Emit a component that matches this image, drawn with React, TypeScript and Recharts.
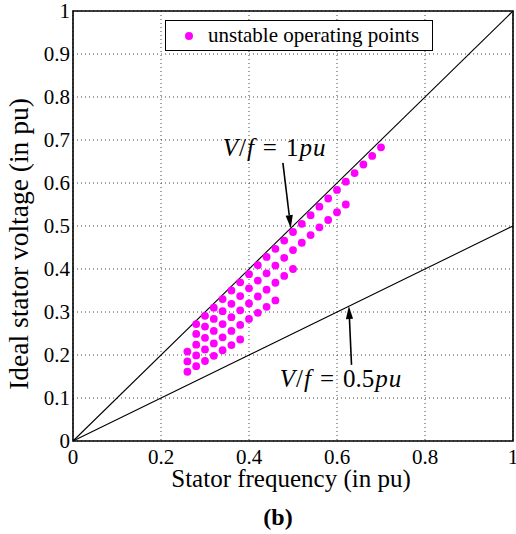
import React from 'react';
import {
  ScatterChart,
  Scatter,
  XAxis,
  YAxis,
  CartesianGrid,
  ReferenceLine,
  ReferenceDot,
  ReferenceArea,
} from 'recharts';

const xTicks = [0, 0.2, 0.4, 0.6, 0.8, 1];
const yTicks = [0, 0.1, 0.2, 0.3, 0.4, 0.5, 0.6, 0.7, 0.8, 0.9, 1];

// Row nearest V/f = 1
const freqRowA = [0.28, 0.3, 0.32, 0.34, 0.36, 0.38, 0.4, 0.42, 0.44, 0.46, 0.48, 0.5, 0.52, 0.54, 0.56, 0.58, 0.6, 0.62, 0.64, 0.66, 0.68, 0.7];
const voltRowA = [0.272, 0.291, 0.31, 0.33, 0.35, 0.369, 0.388, 0.409, 0.428, 0.447, 0.466, 0.486, 0.505, 0.525, 0.545, 0.564, 0.584, 0.603, 0.623, 0.643, 0.663, 0.683];
// second row
const freqRowB = [0.28, 0.3, 0.32, 0.34, 0.36, 0.38, 0.4, 0.42, 0.44, 0.46, 0.48, 0.5, 0.52, 0.54, 0.56, 0.58, 0.6, 0.62];
const voltRowB = [0.249, 0.266, 0.284, 0.302, 0.319, 0.337, 0.355, 0.373, 0.39, 0.408, 0.426, 0.444, 0.461, 0.479, 0.497, 0.514, 0.532, 0.55];
// third row
const freqRowC = [0.26, 0.28, 0.3, 0.32, 0.34, 0.36, 0.38, 0.4, 0.42, 0.44, 0.46, 0.48, 0.5];
const voltRowC = [0.208, 0.224, 0.24, 0.256, 0.272, 0.288, 0.304, 0.32, 0.336, 0.352, 0.368, 0.384, 0.4];
// fourth row
const freqRowD = [0.26, 0.28, 0.3, 0.32, 0.34, 0.36, 0.38, 0.4, 0.42, 0.44, 0.46];
const voltRowD = [0.185, 0.199, 0.213, 0.227, 0.241, 0.256, 0.27, 0.284, 0.298, 0.312, 0.327];
// fifth row
const freqRowE = [0.26, 0.28, 0.3, 0.32, 0.34, 0.36, 0.38];
const voltRowE = [0.161, 0.174, 0.186, 0.198, 0.211, 0.223, 0.236];

const rows: [number[], number[]][] = [
  [freqRowA, voltRowA],
  [freqRowB, voltRowB],
  [freqRowC, voltRowC],
  [freqRowD, voltRowD],
  [freqRowE, voltRowE],
];
const unstablePoints = rows.flatMap(([fs, vs]) => fs.map((f, i) => ({ f, v: vs[i] })));

const SERIF = 'Liberation Serif';
const MAGENTA = '#ff00ff';

const Arrow = (props: any) => {
  const { x1, y1, x2, y2 } = props;
  const ang = Math.atan2(y2 - y1, x2 - x1);
  const L = 13;
  const W = 3.6;
  const bx = x2 - L * Math.cos(ang);
  const by = y2 - L * Math.sin(ang);
  const px = -Math.sin(ang) * W;
  const py = Math.cos(ang) * W;
  return (
    <g>
      <line x1={x1} y1={y1} x2={bx} y2={by} stroke="#000" strokeWidth={1.6} />
      <polygon points={`${x2},${y2} ${bx + px},${by + py} ${bx - px},${by - py}`} fill="#000" />
    </g>
  );
};

const mathLabel = (ratio: string) => (p: any) => (
  <text
    x={p.cx}
    y={p.cy}
    textAnchor="middle"
    dominantBaseline="central"
    fontFamily={SERIF}
    fontSize={25}
    fill="#000"
  >
    <tspan fontStyle="italic">V</tspan>
    <tspan dx={1}>/</tspan>
    <tspan dx={1} fontStyle="italic">f</tspan>
    <tspan dx={9}>=</tspan>
    <tspan dx={9}>{ratio}</tspan>
    <tspan dx={1} fontStyle="italic">p</tspan>
    <tspan dx={1} fontStyle="italic">u</tspan>
  </text>
);

const XTick = (p: any) => (
  <text x={p.x} y={p.y} dy={15} textAnchor="middle" fontFamily={SERIF} fontSize={21} fill="#000">
    {String(p.payload.value)}
  </text>
);

const YTick = (p: any) => (
  <text x={p.x} y={p.y} dy={7} textAnchor="end" fontFamily={SERIF} fontSize={21} fill="#000">
    {String(p.payload.value)}
  </text>
);

export default function App() {
  return (
    <div
      style={{
        position: 'absolute',
        left: 0,
        top: 0,
        width: 516,
        height: 534,
        background: '#fff',
        fontFamily: SERIF,
      }}
    >
      <ScatterChart width={516} height={534} margin={{ top: 11, right: 3, bottom: 0, left: 0 }}>
        <CartesianGrid stroke="#444" strokeDasharray="1 3" />
        <XAxis
          type="number"
          dataKey="f"
          domain={[0, 1]}
          ticks={xTicks}
          interval={0}
          height={93}
          tickSize={0}
          tickMargin={8}
          axisLine={false}
          tick={XTick}
          label={{
            content: (p: any) => (
              <text
                x={p.viewBox.x + p.viewBox.width / 2 - 2}
                y={p.viewBox.y + 46}
                textAnchor="middle"
                fontFamily={SERIF}
                fontSize={25}
                fill="#000"
              >
                Stator frequency (in pu)
              </text>
            ),
          }}
        />
        <YAxis
          type="number"
          dataKey="v"
          domain={[0, 1]}
          ticks={yTicks}
          interval={0}
          width={73}
          tickSize={0}
          tickMargin={3}
          axisLine={false}
          tick={YTick}
          label={{
            content: (p: any) => {
              const cx = p.viewBox.x + 28;
              const cy = p.viewBox.y + p.viewBox.height / 2 + 18;
              return (
                <text
                  x={cx}
                  y={cy}
                  transform={`rotate(-90 ${cx} ${cy})`}
                  textAnchor="middle"
                  fontFamily={SERIF}
                  fontSize={27.5}
                  fill="#000"
                >
                  Ideal stator voltage (in pu)
                </text>
              );
            },
          }}
        />
        <ReferenceLine segment={[{ x: 0, y: 0 }, { x: 1, y: 1 }]} stroke="#000" strokeWidth={1.1} ifOverflow="visible" />
        <ReferenceLine segment={[{ x: 0, y: 0 }, { x: 1, y: 0.5 }]} stroke="#000" strokeWidth={1.1} ifOverflow="visible" />
        <Scatter
          name="unstable operating points"
          data={unstablePoints}
          isAnimationActive={false}
          shape={(p: any) => <circle cx={p.cx} cy={p.cy} r={3.9} fill={MAGENTA} />}
        />
        <ReferenceLine segment={[{ x: 0.477, y: 0.647 }, { x: 0.495, y: 0.495 }]} shape={Arrow} ifOverflow="visible" />
        <ReferenceLine segment={[{ x: 0.633, y: 0.177 }, { x: 0.627, y: 0.314 }]} shape={Arrow} ifOverflow="visible" />
        <ReferenceDot x={0.457} y={0.683} r={0} ifOverflow="visible" shape={mathLabel('1')} />
        <ReferenceDot x={0.608} y={0.146} r={0} ifOverflow="visible" shape={mathLabel('0.5')} />
        <ReferenceArea x1={0} x2={1} y1={0} y2={1} fill="none" stroke="#000" strokeWidth={1.6} ifOverflow="visible" />
      </ScatterChart>
      <div
        style={{
          position: 'absolute',
          left: 165,
          top: 20,
          width: 266,
          height: 29,
          border: '1.3px solid #000',
          background: '#fff',
          fontFamily: SERIF,
          fontSize: 21,
          display: 'flex',
          alignItems: 'center',
          boxSizing: 'content-box',
        }}
      >
        <span
          style={{
            display: 'inline-block',
            width: 8,
            height: 8,
            borderRadius: 4,
            background: MAGENTA,
            marginLeft: 19,
            marginRight: 15,
          }}
        />
        <span style={{ lineHeight: '29px', whiteSpace: 'nowrap' }}>unstable operating points</span>
      </div>
      <div
        style={{
          position: 'absolute',
          left: 0,
          top: 502,
          width: 556,
          textAlign: 'center',
          fontFamily: SERIF,
          fontWeight: 'bold',
          fontSize: 24,
          lineHeight: '30px',
        }}
      >
        (b)
      </div>
    </div>
  );
}
